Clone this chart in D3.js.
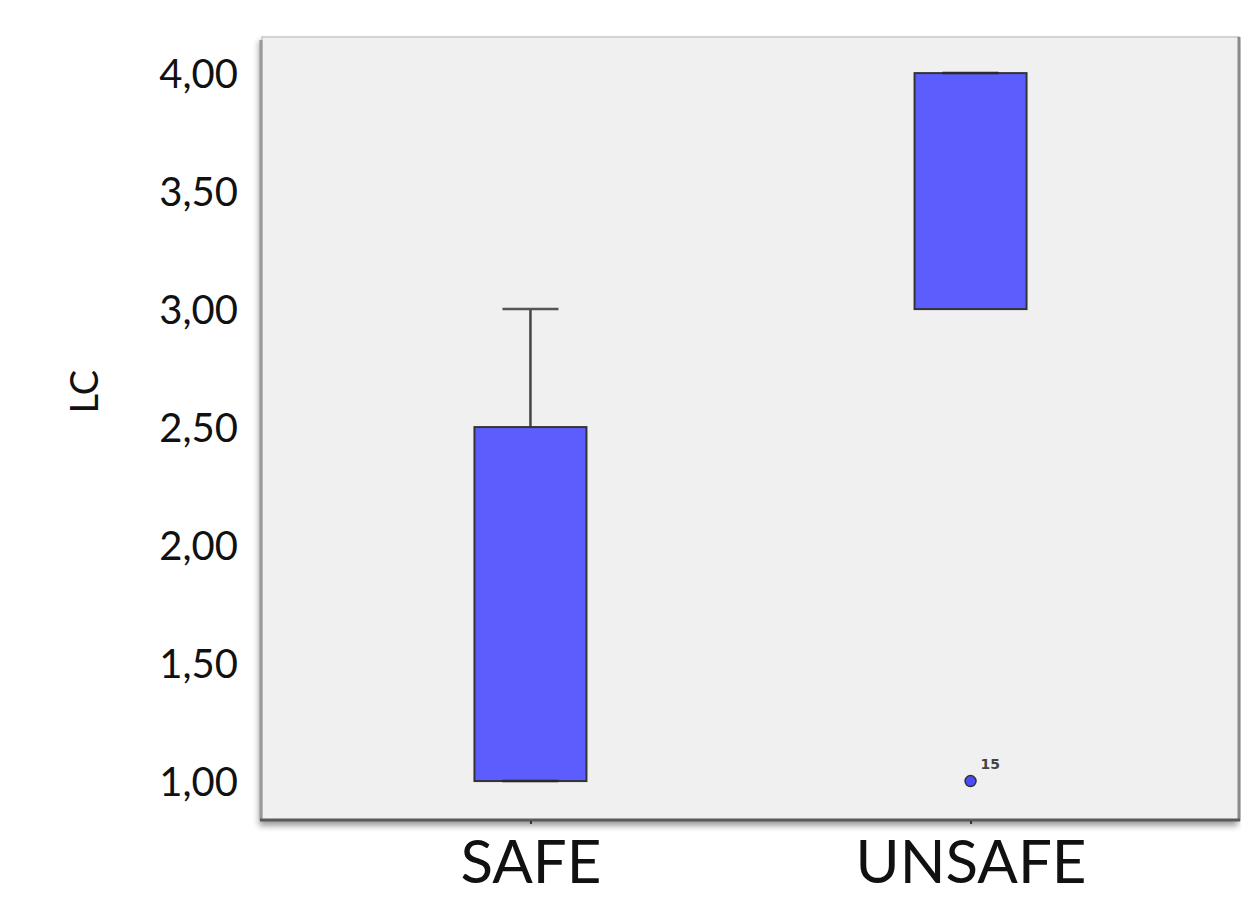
<!DOCTYPE html>
<html><head><meta charset="utf-8">
<script src="https://cdn.jsdelivr.net/npm/d3@7"></script>
<style>body{margin:0;background:#fff}svg{display:block}</style>
</head><body>
<svg id="c" width="1241" height="898"></svg>
<script>
const categories = ["SAFE", "UNSAFE"];
const whiskerLow  = [1.0, 3.0];
const q1Values    = [1.0, 3.0];
const medianValues= [1.0, 4.0];
const q3Values    = [2.5, 4.0];
const whiskerHigh = [3.0, 4.0];
const outlierCats = ["UNSAFE"];
const outlierValues = [1.0];
const outlierLabels = ["15"];
const yTicks = [1.0, 1.5, 2.0, 2.5, 3.0, 3.5, 4.0];
const yLabel = "LC";

const svg = d3.select("#c");
const L = 262, R = 1239, T = 37, B = 820;
const x = d3.scalePoint().domain(categories).range([L, R]).padding(0.61);
const y = d3.scaleLinear().domain([0.835, 4.153]).range([B, T]);
const boxW = 112, capW = 56;

const defs = svg.append("defs");
const f = defs.append("filter").attr("id","sh").attr("x","-5%").attr("y","-5%").attr("width","110%").attr("height","110%");
f.append("feDropShadow").attr("dx",-2).attr("dy",5).attr("stdDeviation",3).attr("flood-color","#000").attr("flood-opacity",0.4);

// plot frame
svg.append("rect").attr("x",L).attr("y",T).attr("width",R-L).attr("height",B-T)
  .attr("fill","#f0f0f0").attr("stroke","#c8c8c8").attr("stroke-width",1.5).attr("filter","url(#sh)");
svg.append("line").attr("x1",L-1).attr("x2",L-1).attr("y1",T+3).attr("y2",B).attr("stroke","#9a9a9a").attr("stroke-width",3);
svg.append("line").attr("x1",R).attr("x2",R).attr("y1",T).attr("y2",B+1).attr("stroke","#8a8a8a").attr("stroke-width",3);
svg.append("line").attr("x1",L-2).attr("x2",R+1).attr("y1",B).attr("y2",B).attr("stroke","#5a5a5a").attr("stroke-width",3);

// axes
const yAxis = d3.axisLeft(y).tickValues(yTicks).tickSize(0).tickPadding(0)
  .tickFormat(d => d3.format(".2f")(d).replace(".", ","));
const gy = svg.append("g").attr("transform",`translate(${238},0)`).call(yAxis);
gy.select(".domain").remove();
gy.selectAll("text").attr("font-family","Lato, 'Open Sans', sans-serif").attr("font-size",40).attr("fill","#111").attr("dy","0.36em");

const xAxis = d3.axisBottom(x).tickSize(3).tickPadding(22);
const gx = svg.append("g").attr("transform",`translate(0,${B+1})`).call(xAxis);
gx.select(".domain").remove();
gx.selectAll("line").attr("stroke","#333").attr("stroke-width",2);
gx.selectAll("text").attr("font-family","Lato, 'Open Sans', sans-serif").attr("font-size",60).attr("fill","#111").attr("dy","0.62em");

svg.append("text").attr("transform",`translate(98,${y(2.65)}) rotate(-90)`)
  .attr("text-anchor","middle").attr("font-family","Lato, 'Open Sans', sans-serif").attr("font-size",38).attr("fill","#111").text(yLabel);

// boxes
const data = categories.map((c,i)=>({c, lo:whiskerLow[i], q1:q1Values[i], med:medianValues[i], q3:q3Values[i], hi:whiskerHigh[i]}));
const g = svg.append("g");
data.forEach(d => {
  const cx = x(d.c);
  if (d.hi > d.q3) {
    g.append("line").attr("x1",cx).attr("x2",cx).attr("y1",y(d.q3)).attr("y2",y(d.hi)).attr("stroke","#444").attr("stroke-width",2.5);
    g.append("line").attr("x1",cx-capW/2).attr("x2",cx+capW/2).attr("y1",y(d.hi)).attr("y2",y(d.hi)).attr("stroke","#555").attr("stroke-width",2.5);
  }
  if (d.lo < d.q1) {
    g.append("line").attr("x1",cx).attr("x2",cx).attr("y1",y(d.q1)).attr("y2",y(d.lo)).attr("stroke","#444").attr("stroke-width",2.5);
    g.append("line").attr("x1",cx-capW/2).attr("x2",cx+capW/2).attr("y1",y(d.lo)).attr("y2",y(d.lo)).attr("stroke","#555").attr("stroke-width",2.5);
  }
  g.append("rect").attr("x",cx-boxW/2).attr("y",y(d.q3)).attr("width",boxW).attr("height",y(d.q1)-y(d.q3))
    .attr("fill","#5b5efd").attr("stroke","#333").attr("stroke-width",2);
  g.append("line").attr("x1",cx-boxW/2+28).attr("x2",cx+boxW/2-28).attr("y1",y(d.med)).attr("y2",y(d.med)).attr("stroke","#2a2a2a").attr("stroke-width",2.5);
});

// outliers
outlierValues.forEach((v,i)=>{
  const cx = x(outlierCats[i]);
  g.append("circle").attr("cx",cx).attr("cy",y(v)).attr("r",5.5).attr("fill","#4a4cf5").attr("stroke","#333").attr("stroke-width",1.5);
  g.append("text").attr("x",cx+10).attr("y",y(v)-12).attr("font-family","'DejaVu Sans', sans-serif").attr("font-weight","bold").attr("font-size",14).attr("fill","#444").text(outlierLabels[i]);
});
</script>
</body></html>
